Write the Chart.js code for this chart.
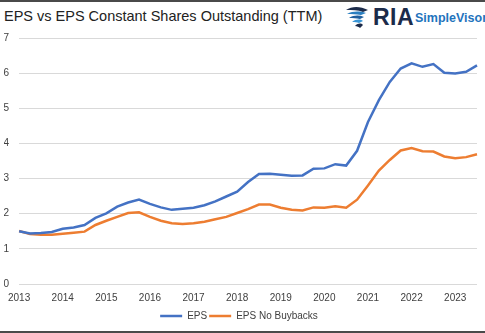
<!DOCTYPE html>
<html>
<head>
<meta charset="utf-8">
<script src="https://cdn.jsdelivr.net/npm/chart.js@4"></script>
<style>
  html, body { margin: 0; padding: 0; background: #fff; }
  body { width: 485px; height: 333px; position: relative; overflow: hidden; font-family: "Liberation Sans", Arial, sans-serif; }
  #frame-top { position: absolute; left: 0; top: 0; width: 485px; height: 2px; background: #4a4a4a; }
  #frame-bottom { position: absolute; left: 0; bottom: 0; width: 485px; height: 2px; background: #4a4a4a; }
  #title { position: absolute; left: 4px; top: 8px; font-size: 14.5px; color: #222; white-space: nowrap; }
  #logo { position: absolute; left: 344px; top: 3px; height: 28px; white-space: nowrap; }
  #logo svg { position: absolute; left: 0; top: 1px; }
  #logo .ria { position: absolute; left: 29px; top: 1px; font-size: 23px; font-weight: bold; color: #1c2b4a; letter-spacing: 0.5px; }
  #logo .sv { position: absolute; left: 71px; top: 8px; font-size: 12.5px; font-weight: bold; color: #1f74bd; }
  #wrap { position: absolute; left: 0; top: 0; width: 485px; height: 333px; }
</style>
</head>
<body>
<div id="frame-top"></div>
<div id="title">EPS vs EPS Constant Shares Outstanding (TTM)</div>
<div id="logo">
  <svg width="26" height="26" viewBox="0 0 26 26">
    <path d="M2 6 C8 2 16 2 24 6 L19 8 C14 6 8 6 2 6 Z" fill="#1c2b4a"/>
    <path d="M3 10 C9 7 15 7 22 9 L17 11 C12 10 8 10 3 10 Z" fill="#2a7fc1"/>
    <path d="M5 14 C10 11 15 11 20 13 L16 15 C12 14 9 14 5 14 Z" fill="#1f5f9e"/>
    <path d="M8 18 C12 15 16 15 19 17 L15 19 C13 18 11 18 8 18 Z" fill="#3a96d6"/>
    <path d="M11 22 C14 19 17 19 19 21 L16 24 C15 23 13 22 11 22 Z" fill="#1c2b4a"/>
  </svg>
  <span class="ria">RIA</span>
  <span class="sv">SimpleVisor</span>
</div>
<div id="wrap"><canvas id="eps-chart" width="485" height="333"></canvas></div>
<div id="frame-bottom"></div>
<script>
// Quarterly TTM earnings per share, Q1 2013 through Q3 2023
const years = ['2013', '2014', '2015', '2016', '2017', '2018', '2019', '2020', '2021', '2022', '2023'];
const quartersPerYear = ['Q1', 'Q2', 'Q3', 'Q4'];
const lastYearQuarters = 3;

const eps = [1.50, 1.44, 1.45, 1.48, 1.57, 1.61, 1.68, 1.88, 2.01, 2.20, 2.32, 2.40,
             2.28, 2.18, 2.11, 2.14, 2.17, 2.24, 2.35, 2.49, 2.63, 2.90, 3.13, 3.14,
             3.11, 3.08, 3.09, 3.28, 3.29, 3.41, 3.37, 3.79, 4.61, 5.23, 5.75, 6.13,
             6.28, 6.18, 6.26, 6.01, 5.99, 6.04, 6.22];
const epsNoBuybacks = [1.51, 1.42, 1.40, 1.40, 1.43, 1.46, 1.49, 1.68, 1.80, 1.91, 2.02, 2.04,
                       1.91, 1.80, 1.73, 1.71, 1.73, 1.77, 1.84, 1.91, 2.02, 2.13, 2.26, 2.26,
                       2.17, 2.11, 2.09, 2.18, 2.17, 2.21, 2.17, 2.40, 2.80, 3.23, 3.53, 3.80,
                       3.87, 3.78, 3.77, 3.63, 3.58, 3.61, 3.69];

// one category per quarter, the year is shown on Q1 only
const quarters = [];
years.forEach((y, i) => {
    const n = i === years.length - 1 ? lastYearQuarters : 4;
    for (let q = 0; q < n; q++) quarters.push(y + ' ' + quartersPerYear[q]);
});

const tickFont = { family: '"Liberation Sans", Arial, sans-serif', size: 10 };

function createEpsChart() {
    const ctx = document.getElementById('eps-chart').getContext('2d');
    new Chart(ctx, {
        type: 'line',
        data: {
            labels: quarters,
            datasets: [
                {
                    label: 'EPS',
                    data: eps,
                    borderColor: '#4472C4',
                    backgroundColor: '#4472C4',
                    borderWidth: 2.5,
                    pointRadius: 0,
                    pointStyle: 'line',
                    tension: 0,
                },
                {
                    label: 'EPS No Buybacks',
                    data: epsNoBuybacks,
                    borderColor: '#ED7D31',
                    backgroundColor: '#ED7D31',
                    borderWidth: 2.5,
                    pointRadius: 0,
                    pointStyle: 'line',
                    tension: 0,
                },
            ],
        },
        options: {
            responsive: false,
            animation: false,
            layout: { padding: { top: 38, right: 7, left: 0, bottom: 2 } },
            scales: {
                x: {
                    offset: false,
                    grid: { display: false, drawTicks: false },
                    border: { display: false },
                    afterFit: (scale) => { scale.height = 25; },
                    ticks: {
                        autoSkip: false,
                        maxRotation: 0,
                        padding: 8,
                        color: '#404040',
                        font: tickFont,
                        callback: function (value, index) {
                            const label = quarters[index];
                            return label.endsWith('Q1') ? label.slice(0, 4) : '';
                        },
                    },
                },
                y: {
                    min: 0,
                    max: 7,
                    grid: { color: '#d9d9d9', lineWidth: 1, drawTicks: false },
                    border: { display: false },
                    afterFit: (scale) => { scale.width = 15; },
                    ticks: { stepSize: 1, padding: 10, color: '#404040', font: tickFont },
                },
            },
            plugins: {
                legend: {
                    position: 'bottom',
                    labels: {
                        usePointStyle: true,
                        pointStyleWidth: 22,
                        padding: 2,
                        color: '#404040',
                        font: tickFont,
                    },
                },
                tooltip: { enabled: false },
            },
        },
    });
}

createEpsChart();
</script>
</body>
</html>
